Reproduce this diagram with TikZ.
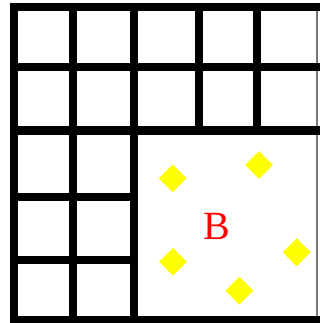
\documentclass[tikz,border=0pt]{standalone}
\usepackage{fontspec}
\setmainfont{Liberation Serif}
\usetikzlibrary{shapes.geometric}
\definecolor{ink}{RGB}{0,0,0}
\definecolor{edgegray}{RGB}{120,120,120}
\definecolor{gemyellow}{RGB}{255,255,0}
\definecolor{letterred}{RGB}{255,0,0}

\begin{document}
\begin{tikzpicture}[
  x=1pt,y=-1pt,
  wall/.style={draw=ink,line width=8pt,line cap=rect},
  gem/.style={diamond,fill=gemyellow,minimum size=28pt,inner sep=0pt},
  mark letter/.style={text=letterred,inner sep=0pt,font=\fontsize{40}{40}\selectfont}
]
\useasboundingbox[fill=white] (0,0) rectangle (320,323);
% thin edge on the right
\draw[edgegray,line width=2pt] (316.5,7) -- (316.5,320);
% outer frame and long rows
\draw[wall] (320,7) -- (13.5,7) -- (13.5,320) -- (320,320);
\foreach \y in {67,130.5}
  \draw[wall] (13.5,\y) -- (320,\y);
% short rows on the left
\foreach \y in {197,259.5}
  \draw[wall] (13.5,\y) -- (133.5,\y);
% columns
\foreach \x in {73,133.5}
  \draw[wall] (\x,7) -- (\x,320);
\foreach \x in {198.5,256.5}
  \draw[wall] (\x,7) -- (\x,130.5);
% big cell
\node[gem] (d1) at (172.7,178.3) {};
\node[gem] (d2) at (259,165) {};
\node[gem] (d3) at (173,261.7) {};
\node[gem] (d4) at (296.7,252.3) {};
\node[gem] (d5) at (239.3,290.7) {};
\node[mark letter] (b) at (216.7,226.7) {B};
\end{tikzpicture}
\end{document}
